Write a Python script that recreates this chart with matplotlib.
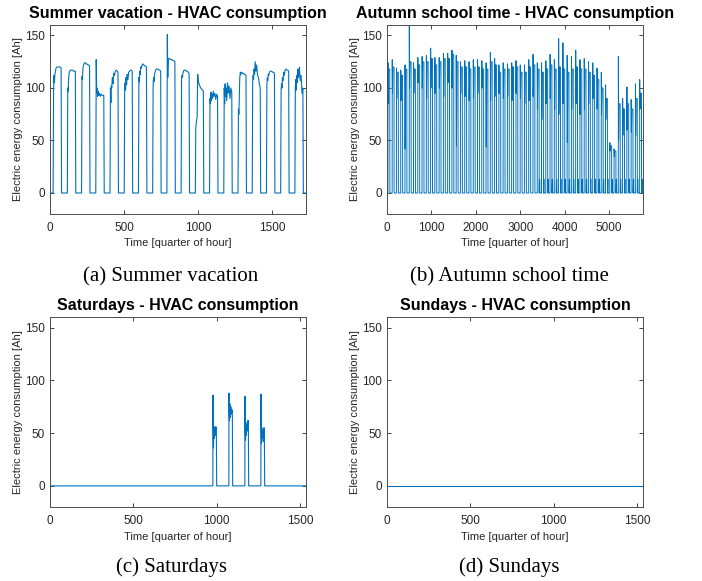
import numpy as np
import matplotlib
matplotlib.use("Agg")
import matplotlib.pyplot as plt

# one day = 96 quarter hours
DAY = 96

# --- (a) Summer vacation: 18 days, knot values inside the daily on-period ---
summer_offsets = [24, 27, 30, 33, 37, 41, 46, 51, 57, 63, 69, 75]
summer_values = [
    [98, 112, 105, 113, 116, 119, 120, 120, 120, 120, 120, 119],
    [100, 97, 110, 114, 116, 117, 117, 117, 117, 116, 116, 116],
    [111, 108, 118, 121, 123, 124, 124, 123, 123, 122, 122, 121],
    [127, 95, 100, 92, 97, 93, 95, 92, 94, 93, 93, 93],
    [100, 86, 102, 100, 110, 104, 114, 112, 116, 117, 116, 115],
    [100, 105, 98, 110, 103, 113, 108, 115, 116, 117, 117, 116],
    [110, 106, 116, 113, 120, 119, 122, 123, 122, 121, 121, 120],
    [103, 110, 106, 113, 115, 117, 118, 118, 118, 117, 117, 116],
    [151, 110, 126, 128, 128, 128, 127, 127, 127, 126, 126, 125],
    [108, 112, 110, 114, 116, 117, 117, 117, 116, 116, 115, 114],
    [62, 66, 70, 72, 113, 106, 104, 102, 100, 99, 98, 97],
    [90, 85, 96, 88, 94, 90, 97, 92, 95, 89, 94, 92],
    [100, 85, 104, 92, 100, 88, 105, 95, 102, 90, 100, 96],
    [80, 75, 92, 110, 115, 113, 115, 114, 114, 113, 113, 112],
    [105, 112, 108, 118, 113, 125, 116, 122, 112, 110, 104, 100],
    [104, 110, 107, 113, 112, 115, 116, 116, 116, 115, 115, 114],
    [98, 104, 100, 110, 107, 115, 112, 117, 118, 117, 117, 116],
    [100, 108, 98, 112, 105, 118, 110, 120, 107, 112, 95, 100],
]

# --- (b) Autumn school time: 60 days ---
autumn_peak = [124, 127, 119, 117, 122, 159, 124, 129, 130, 131,
               138, 129, 129, 133, 133, 136, 131, 125, 126, 125,
               127, 127, 126, 124, 134, 128, 122, 124, 123, 124,
               126, 122, 122, 127, 132, 124, 124, 126, 132, 127,
               147, 143, 131, 130, 136, 127, 128, 125, 124, 119,
               115, 103, 48, 42, 130, 90, 101, 89, 104, 108]
autumn_low = [85, 95, 90, 88, 42, 100, 95, 105, 100, 90,
              100, 95, 100, 92, 105, 100, 45, 95, 92, 88,
              90, 95, 100, 44, 88, 92, 95, 90, 92, 88,
              95, 90, 85, 88, 92, 80, 70, 85, 90, 80,
              75, 85, 48, 80, 85, 75, 80, 85, 90, 80,
              75, 70, 40, 35, 50, 55, 60, 58, 55, 80]
autumn_level = [118, 120, 115, 112, 118, 125, 118, 122, 125, 125,
                128, 122, 125, 128, 128, 132, 125, 120, 120, 118,
                120, 120, 118, 118, 125, 122, 115, 118, 118, 120,
                120, 115, 115, 120, 122, 118, 115, 118, 122, 118,
                120, 118, 115, 118, 120, 118, 118, 115, 112, 108,
                100, 90, 45, 40, 85, 80, 85, 80, 90, 95]
autumn_night = [0] * 35 + [13] * 25

# --- (c) Saturdays: 16 days, only four with HVAC on ---
sat_days = 16
sat_active = [10, 11, 12, 13]
sat_offsets = [18, 19, 21, 23, 26, 29, 32, 35, 38]
sat_values = [
    [86, 60, 36, 52, 45, 56, 48, 56, 55],
    [88, 70, 62, 78, 65, 75, 68, 72, 72],
    [85, 55, 43, 60, 48, 58, 52, 62, 62],
    [87, 60, 40, 55, 45, 52, 42, 55, 55],
]

# --- (d) Sundays: 16 days, no consumption ---
sun_days = 16
sun_level = [0] * sun_days

LINE = "#0072BD"
TXT = "#262626"


def summer_series():
    x, y = [], []
    for d, vals in enumerate(summer_values):
        base = d * DAY
        x += [base, base + 21] + [base + o for o in summer_offsets] + [base + 78]
        y += [0, 0] + vals + [0]
    x.append(len(summer_values) * DAY)
    y.append(0)
    return x, y


def autumn_series():
    x, y = [], []
    for d in range(len(autumn_peak)):
        b = d * DAY
        n = autumn_night[d]
        x += [b, b + 20, b + 22, b + 27, b + 36, b + 50, b + 62, b + 64,
              b + 70, b + 78, b + 80]
        y += [0, 0, autumn_peak[d], autumn_low[d], autumn_level[d],
              autumn_level[d], autumn_level[d], 0, n, n, 0]
    x.append(len(autumn_peak) * DAY)
    y.append(0)
    return x, y


def saturday_series():
    x, y = [0], [0]
    for d, vals in zip(sat_active, sat_values):
        b = d * DAY
        x += [b + 17] + [b + o for o in sat_offsets] + [b + 40]
        y += [0] + vals + [0]
    x.append(sat_days * DAY)
    y.append(0)
    return x, y


def sunday_series():
    x = [d * DAY for d in range(sun_days)] + [sun_days * DAY]
    y = sun_level + [0]
    return x, y


def style(ax, xmax, xticks, title):
    ax.set_xlim(0, xmax)
    ax.set_ylim(-20, 160)
    ax.set_xticks(xticks)
    ax.set_yticks([0, 50, 100, 150])
    ax.tick_params(direction="in", length=3, width=0.6, top=True, right=True,
                   labelsize=8.5, colors=TXT)
    ax.tick_params(axis="x", pad=6)
    ax.tick_params(axis="y", pad=3.5)
    for s in ax.spines.values():
        s.set_color("#4d4d4d")
        s.set_linewidth(0.7)
    ax.set_xlabel("Time [quarter of hour]", fontsize=8, color=TXT, labelpad=3)
    ax.set_ylabel("Electric energy consumption [Ah]", fontsize=8, color=TXT)
    ax.yaxis.set_label_coords(-0.105, 0.5)
    ax.set_title(title, fontsize=11.5, fontweight="bold", color="black", pad=5)


plt.rcParams["font.family"] = ["Liberation Sans", "DejaVu Sans"]
W, H = 702, 581
fig = plt.figure(figsize=(W / 100, H / 100), dpi=100)


def axes_px(left, right, top, bottom):
    return fig.add_axes([left / W, 1 - bottom / H, (right - left) / W, (bottom - top) / H])


ax_a = axes_px(50, 306, 25, 214)
ax_b = axes_px(387, 643, 25, 214)
ax_c = axes_px(50, 306, 317, 507)
ax_d = axes_px(387, 643, 317, 507)

x, y = summer_series()
ax_a.plot(x, y, color=LINE, lw=0.8)
style(ax_a, 1728, [0, 500, 1000, 1500], "Summer vacation - HVAC consumption")

x, y = autumn_series()
ax_b.plot(x, y, color=LINE, lw=0.7)
style(ax_b, 5760, [0, 1000, 2000, 3000, 4000, 5000], "Autumn school time - HVAC consumption")

x, y = saturday_series()
ax_c.plot(x, y, color=LINE, lw=0.8)
style(ax_c, 1536, [0, 500, 1000, 1500], "Saturdays - HVAC consumption")

x, y = sunday_series()
ax_d.plot(x, y, color=LINE, lw=0.8)
style(ax_d, 1536, [0, 500, 1000, 1500], "Sundays - HVAC consumption")

# sub-figure captions
cap = dict(ha="center", va="center", fontsize=15, family=["Liberation Serif", "DejaVu Serif"])
fig.text(171 / W, 1 - 277 / H, "(a) Summer vacation", **cap)
fig.text(509 / W, 1 - 277 / H, "(b) Autumn school time", **cap)
fig.text(172 / W, 1 - 567 / H, "(c) Saturdays", **cap)
fig.text(509 / W, 1 - 567 / H, "(d) Sundays", **cap)

fig.savefig("out.png", dpi=100)
